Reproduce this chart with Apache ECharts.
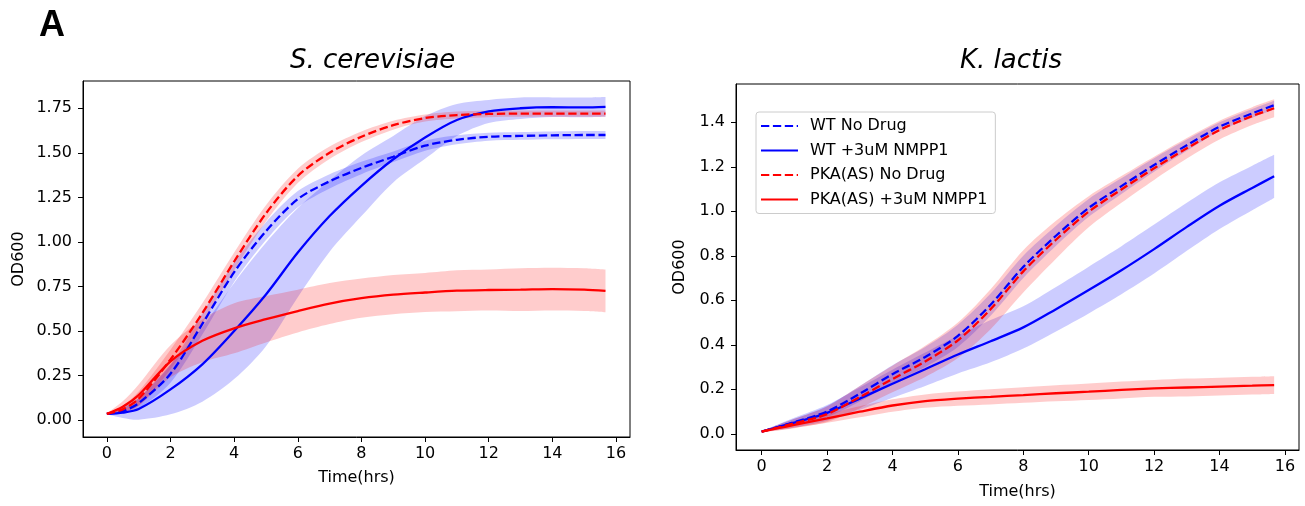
<!DOCTYPE html>
<html>
<head>
<meta charset="utf-8">
<script src="https://cdn.jsdelivr.net/npm/echarts@6/dist/echarts.min.js"></script>
<style>
html,body{margin:0;padding:0;background:#fff;}
#chart{width:1305px;height:506px;}
</style>
</head>
<body>
<div id="chart"></div>
<script>
// ---- data (hours / OD600 mean and standard deviation) ----
const timeHrs = [0, 0.5, 1, 2, 3, 4, 5, 6, 7, 8, 9, 10, 11, 12, 13, 14, 15, 15.67];

const scWtNoDrug     = [0.035,0.05,0.095,0.26,0.54,0.83,1.06,1.24,1.34,1.415,1.478,1.54,1.573,1.59,1.595,1.598,1.6,1.6];
const scWtNoDrugSd   = [0.002,0.015,0.03,0.05,0.06,0.055,0.05,0.045,0.04,0.035,0.03,0.028,0.025,0.022,0.022,0.022,0.022,0.022];
const scWtDrug       = [0.035,0.042,0.062,0.172,0.313,0.50,0.705,0.94,1.145,1.315,1.464,1.586,1.684,1.732,1.75,1.756,1.755,1.758];
const scWtDrugSd     = [0.002,0.03,0.06,0.14,0.21,0.27,0.29,0.25,0.2,0.17,0.13,0.12,0.09,0.065,0.06,0.055,0.055,0.055];
const scPkaNoDrug    = [0.035,0.06,0.12,0.34,0.60,0.89,1.16,1.37,1.50,1.59,1.655,1.695,1.712,1.718,1.72,1.72,1.72,1.72];
const scPkaNoDrugSd  = [0.002,0.02,0.04,0.055,0.055,0.05,0.045,0.04,0.035,0.03,0.025,0.02,0.02,0.018,0.018,0.018,0.018,0.018];
const scPkaDrug      = [0.035,0.075,0.14,0.33,0.445,0.515,0.566,0.612,0.654,0.684,0.704,0.716,0.726,0.73,0.732,0.735,0.732,0.725];
const scPkaDrugSd    = [0.002,0.03,0.06,0.09,0.12,0.14,0.13,0.12,0.115,0.11,0.11,0.11,0.115,0.115,0.12,0.12,0.12,0.12];

const klWtNoDrug     = [0.01,0.03,0.052,0.10,0.18,0.268,0.345,0.44,0.58,0.75,0.89,1.015,1.113,1.208,1.297,1.38,1.44,1.477];
const klWtNoDrugSd   = [0.002,0.01,0.015,0.025,0.035,0.04,0.045,0.05,0.05,0.05,0.045,0.04,0.035,0.03,0.025,0.02,0.02,0.02];
const klWtDrug       = [0.01,0.03,0.05,0.094,0.158,0.225,0.29,0.356,0.416,0.478,0.56,0.646,0.735,0.83,0.93,1.025,1.105,1.157];
const klWtDrugSd     = [0.002,0.012,0.022,0.035,0.05,0.063,0.075,0.085,0.095,0.095,0.1,0.105,0.108,0.11,0.108,0.105,0.1,0.097];
const klPkaNoDrug    = [0.01,0.028,0.047,0.088,0.165,0.246,0.325,0.42,0.56,0.73,0.872,0.998,1.098,1.193,1.283,1.365,1.428,1.463];
const klPkaNoDrugSd  = [0.002,0.012,0.02,0.035,0.05,0.06,0.07,0.08,0.09,0.095,0.085,0.07,0.06,0.052,0.046,0.042,0.04,0.04];
const klPkaDrug      = [0.01,0.025,0.04,0.069,0.099,0.127,0.147,0.158,0.166,0.174,0.182,0.189,0.197,0.204,0.208,0.212,0.216,0.219];
const klPkaDrugSd    = [0.002,0.01,0.015,0.02,0.025,0.028,0.03,0.032,0.034,0.035,0.036,0.037,0.038,0.038,0.04,0.04,0.04,0.04];

const seriesNames = ['WT No Drug', 'WT +3uM NMPP1', 'PKA(AS) No Drug', 'PKA(AS) +3uM NMPP1'];
const xTicks  = [0, 2, 4, 6, 8, 10, 12, 14, 16];
const yTicksS = [0, 0.25, 0.5, 0.75, 1.0, 1.25, 1.5, 1.75];
const yTicksK = [0, 0.2, 0.4, 0.6, 0.8, 1.0, 1.2, 1.4];

// ---- styling ----
const FONT = 'DejaVu Sans';
const BLUE = '#0000ff', RED = '#ff0000';
const BLUE_BAND = 'rgba(0,0,255,0.2)', RED_BAND = 'rgba(255,0,0,0.2)';
const LW = 2.3;
const DASH = [8.3, 3.6];
const SM = 0.3;

// smooth path through pixel points (same scheme as ECharts' smoothed lines)
function smoothPath(pts, s, first) {
  const n = pts.length;
  let d = (first ? 'M' : 'L') + pts[0][0] + ',' + pts[0][1];
  const cps = pts.map((p, i) => {
    if (i === 0 || i === n - 1) return [p, p];
    const pr = pts[i - 1], nx = pts[i + 1];
    const vx = nx[0] - pr[0], vy = nx[1] - pr[1];
    const d0 = Math.hypot(p[0] - pr[0], p[1] - pr[1]);
    const d1 = Math.hypot(nx[0] - p[0], nx[1] - p[1]);
    const r0 = d0 / (d0 + d1 || 1), r1 = d1 / (d0 + d1 || 1);
    return [[p[0] - vx * s * r0, p[1] - vy * s * r0], [p[0] + vx * s * r1, p[1] + vy * s * r1]];
  });
  for (let i = 1; i < n; i++) {
    const c1 = cps[i - 1][1], c2 = cps[i][0];
    d += ' C' + c1[0] + ',' + c1[1] + ' ' + c2[0] + ',' + c2[1] + ' ' + pts[i][0] + ',' + pts[i][1];
  }
  return d;
}

function bandSeries(g, t, mean, sd, color) {
  return {
    type: 'custom', xAxisIndex: g, yAxisIndex: g, silent: true, z: 1,
    data: t.map((x, i) => [x, mean[i] - sd[i], mean[i] + sd[i]]),
    encode: { x: 0, y: [1, 2] },
    renderItem: function (params, api) {
      if (params.dataIndexInside !== 0) return null;
      const n = params.dataInsideLength;
      const up = [], lo = [];
      for (let i = 0; i < n; i++) {
        up.push(api.coord([api.value(0, i), api.value(2, i)]));
        lo.push(api.coord([api.value(0, i), api.value(1, i)]));
      }
      lo.reverse();
      const d = smoothPath(up, SM, true) + ' ' + smoothPath(lo, SM, false) + ' Z';
      return { type: 'path', shape: { pathData: d }, style: { fill: color, stroke: null } };
    }
  };
}
function meanSeries(name, g, t, mean, color, dashed) {
  return { type: 'line', name: name, xAxisIndex: g, yAxisIndex: g,
    data: t.map((x, i) => [x, mean[i]]),
    symbol: 'none', smooth: SM, z: 3,
    itemStyle: { color: color },
    lineStyle: { color: color, width: LW, type: dashed ? DASH : 'solid' } };
}

const series = [];
const panels = [
  { g: 0, sets: [[scWtNoDrug, scWtNoDrugSd, BLUE, BLUE_BAND, true],
                 [scWtDrug, scWtDrugSd, BLUE, BLUE_BAND, false],
                 [scPkaNoDrug, scPkaNoDrugSd, RED, RED_BAND, true],
                 [scPkaDrug, scPkaDrugSd, RED, RED_BAND, false]] },
  { g: 1, sets: [[klWtNoDrug, klWtNoDrugSd, BLUE, BLUE_BAND, true],
                 [klWtDrug, klWtDrugSd, BLUE, BLUE_BAND, false],
                 [klPkaNoDrug, klPkaNoDrugSd, RED, RED_BAND, true],
                 [klPkaDrug, klPkaDrugSd, RED, RED_BAND, false]] }
];
panels.forEach(p => {
  p.sets.forEach(s => series.push(bandSeries(p.g, timeHrs, s[0], s[1], s[3])));
  p.sets.forEach((s, k) => series.push(meanSeries(seriesNames[k], p.g, timeHrs, s[0], s[2], s[4])));
});

function xAxisCfg(g, min, max, nameGap) {
  return { type: 'value', gridIndex: g, min: min, max: max,
    name: 'Time(hrs)', nameLocation: 'middle', nameGap: nameGap,
    nameTextStyle: { fontSize: 16, color: '#000', fontFamily: FONT },
    axisLine: { show: true, onZero: false, lineStyle: { color: '#000', width: 1 } },
    axisTick: { show: true, length: 5, customValues: xTicks, lineStyle: { color: '#000', width: 1 } },
    axisLabel: { customValues: xTicks, margin: 9, fontSize: 16, color: '#000', fontFamily: FONT,
      formatter: v => String(v) },
    splitLine: { show: false } };
}
function yAxisCfg(g, min, max, ticks, dec, nameGap) {
  return { type: 'value', gridIndex: g, min: min, max: max,
    name: 'OD600', nameLocation: 'middle', nameGap: nameGap,
    nameTextStyle: { fontSize: 16, color: '#000', fontFamily: FONT },
    axisLine: { show: true, onZero: false, lineStyle: { color: '#000', width: 1 } },
    axisTick: { show: true, length: 5, customValues: ticks, lineStyle: { color: '#000', width: 1 } },
    axisLabel: { customValues: ticks, margin: 11, fontSize: 16, color: '#000', fontFamily: FONT,
      formatter: v => Number(v).toFixed(dec) },
    splitLine: { show: false } };
}

const option = {
  animation: false,
  backgroundColor: '#fff',
  title: [
    { text: 'A', left: 39, top: 8, padding: 0,
      textStyle: { fontSize: 36, fontWeight: 'bold', fontFamily: 'Liberation Sans', color: '#000' } },
    { text: 'S. cerevisiae', left: 290, top: 48, padding: 0,
      textStyle: { fontSize: 26, fontStyle: 'italic', fontWeight: 'normal', fontFamily: FONT, color: '#000' } },
    { text: 'K. lactis', left: 960, top: 48, padding: 0,
      textStyle: { fontSize: 26, fontStyle: 'italic', fontWeight: 'normal', fontFamily: FONT, color: '#000' } }
  ],
  legend: {
    data: seriesNames,
    orient: 'vertical', left: 756, top: 112,
    padding: [6, 8, 6, 4], itemGap: 8.5,
    itemWidth: 37, itemHeight: 16,
    itemStyle: { opacity: 0 },
    backgroundColor: 'rgba(255,255,255,0.8)',
    borderColor: '#cccccc', borderWidth: 1, borderRadius: 3,
    textStyle: { fontSize: 16, color: '#000', fontFamily: FONT, lineHeight: 16, padding: [0, 0, 0, 7] },
    selectedMode: false
  },
  grid: [
    { left: 83, top: 81, width: 547, height: 356, show: true, borderColor: '#000', borderWidth: 1, backgroundColor: 'transparent' },
    { left: 736, top: 84, width: 563, height: 366, show: true, borderColor: '#000', borderWidth: 1, backgroundColor: 'transparent' }
  ],
  xAxis: [ xAxisCfg(0, -0.75, 16.44, 33), xAxisCfg(1, -0.785, 16.43, 34) ],
  yAxis: [ yAxisCfg(0, -0.095, 1.903, yTicksS, 2, 56), yAxisCfg(1, -0.073, 1.572, yTicksK, 1, 48) ],
  series: series
};

const chart = echarts.init(document.getElementById('chart'), null, { renderer: 'canvas' });
chart.setOption(option);
</script>
</body>
</html>
